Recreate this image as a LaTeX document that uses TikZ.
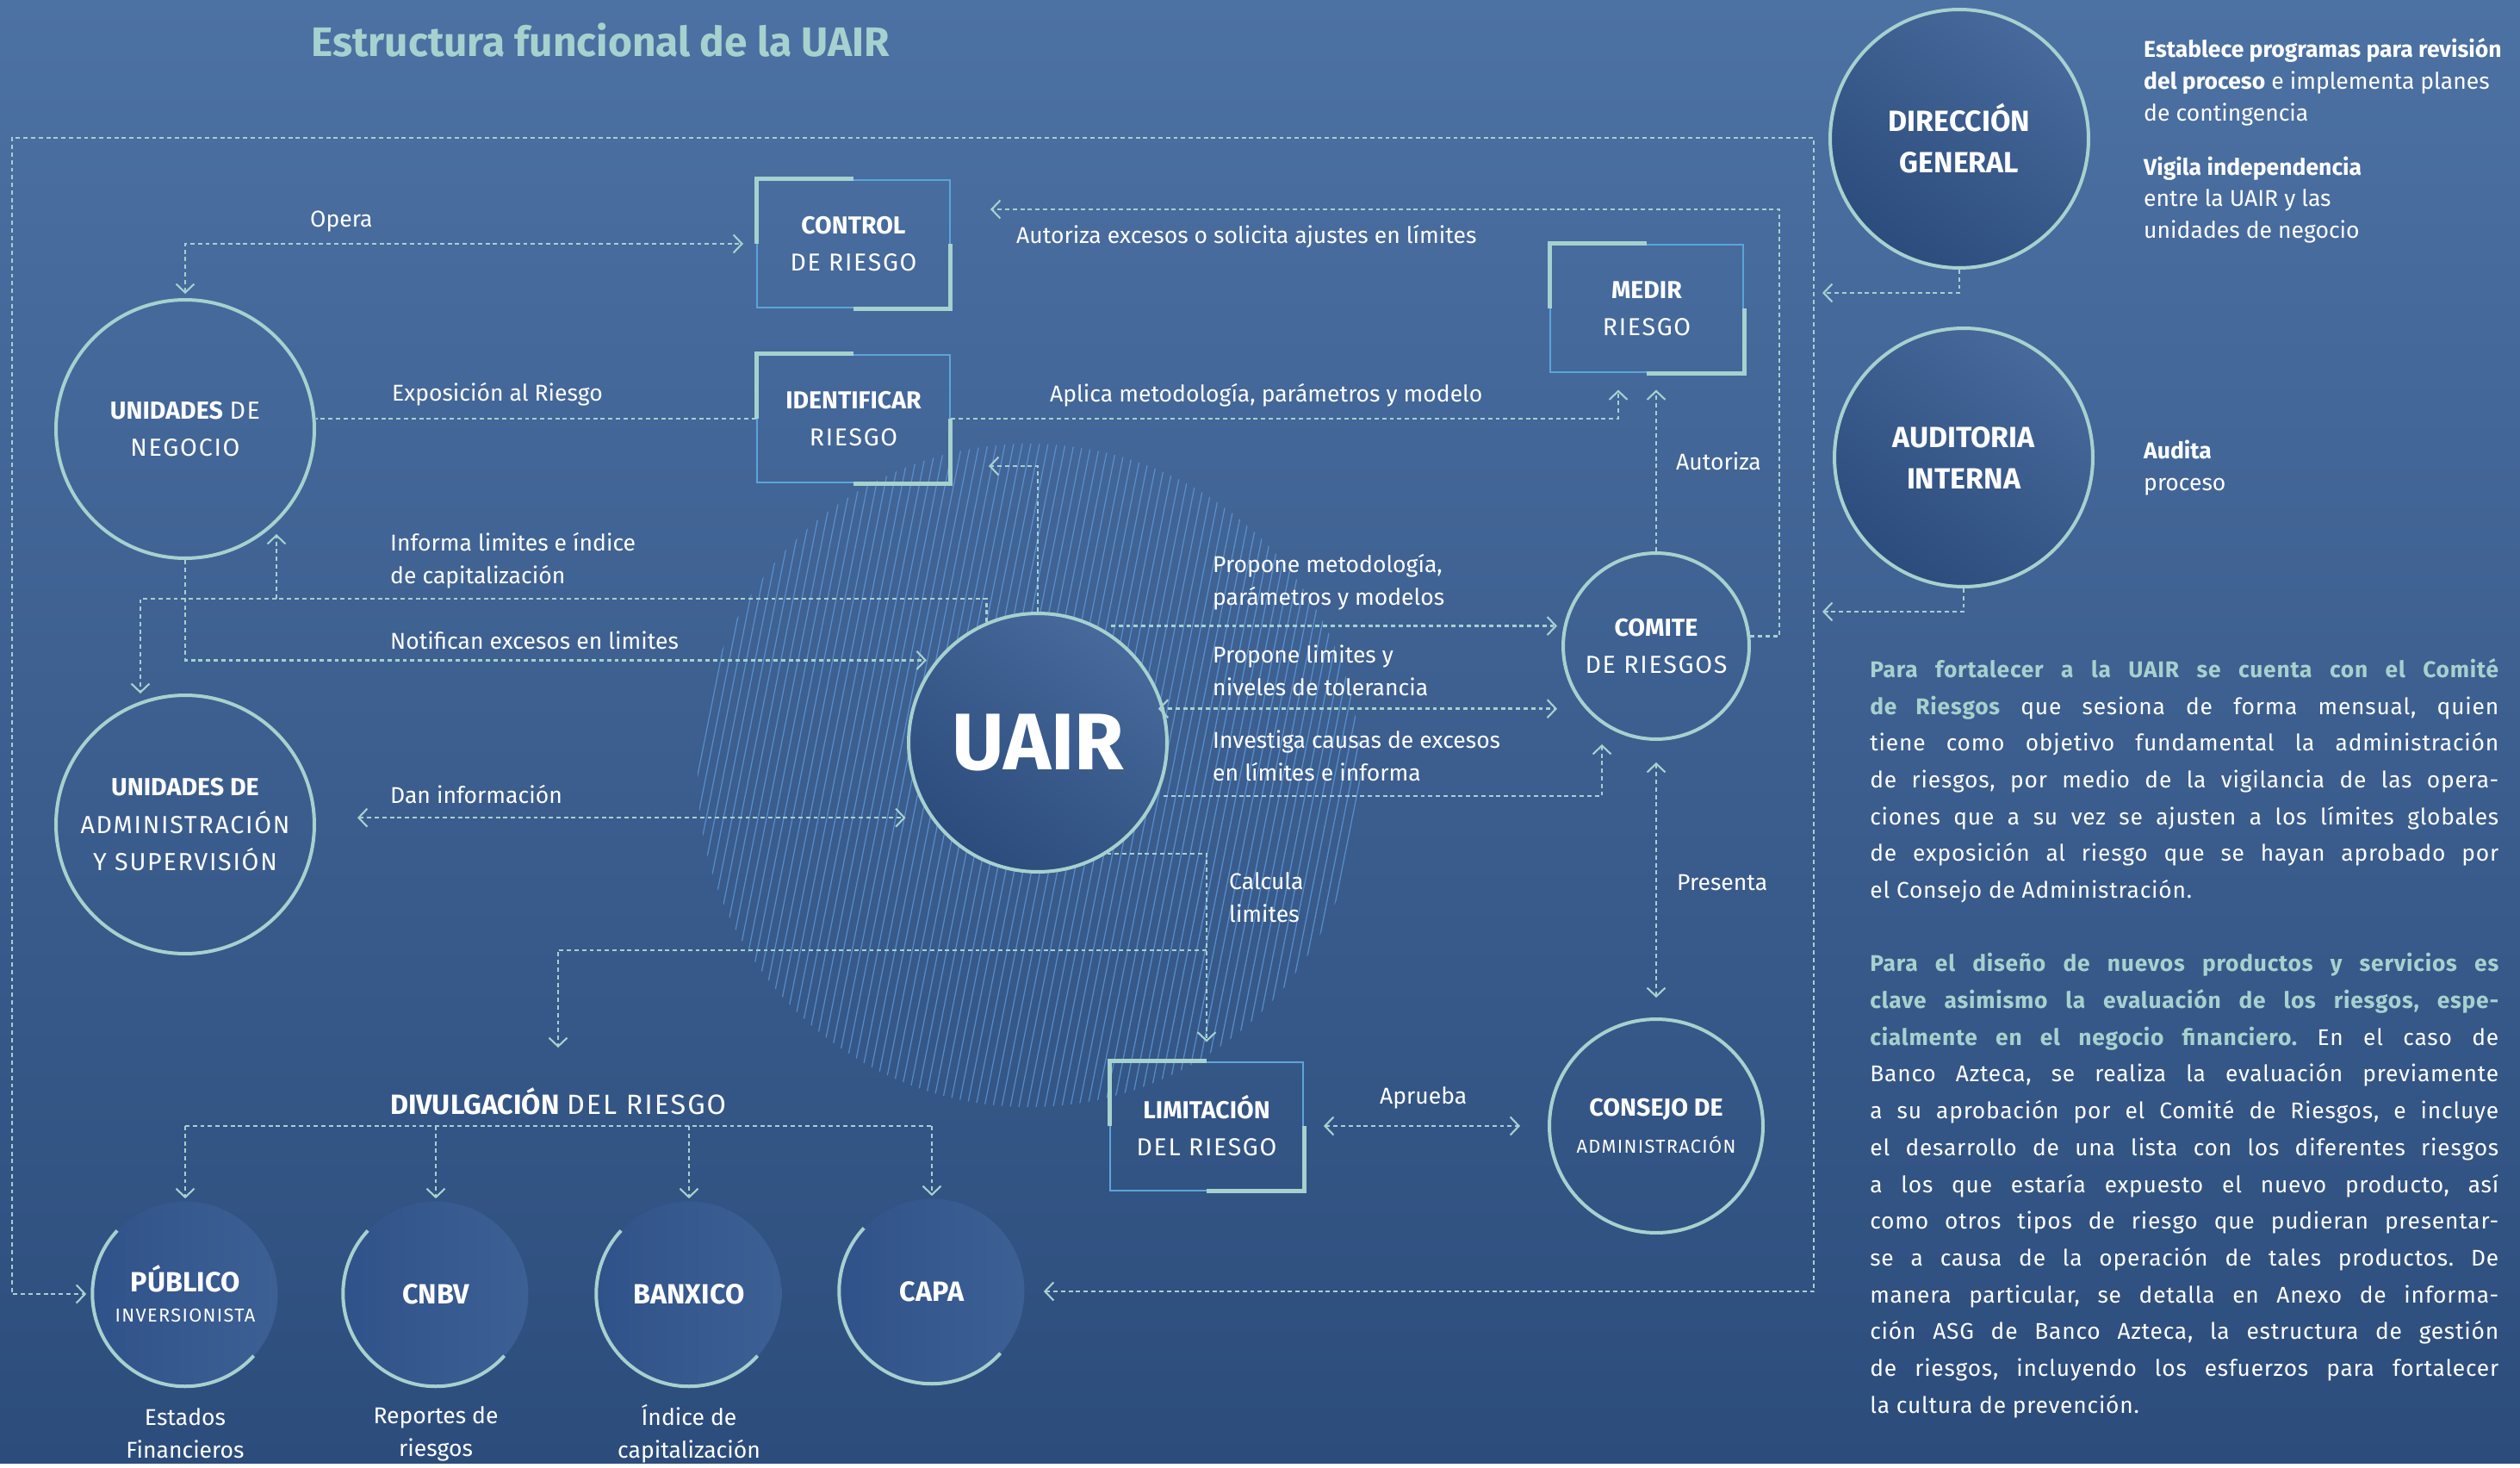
\documentclass[tikz,border=0pt]{standalone}
\usepackage{fontspec}
\setmainfont{Fira Sans}
\newfontfamily\espaciada{Fira Sans}[LetterSpace=6]
\newfontfamily\parrafofont{Fira Sans}[LetterSpace=3]
\newcommand{\espa}[1]{{\espaciada #1}}
\usetikzlibrary{arrows.meta}
\definecolor{fondoA}{HTML}{4C71A3}
\definecolor{fondoB}{HTML}{2C4D7C}
\definecolor{verde}{HTML}{A6D1CE}
\definecolor{azulclaro}{HTML}{5AA5DA}
\definecolor{rayas}{HTML}{66A8EC}
\definecolor{bolaA}{HTML}{2B4C7C}
\definecolor{bolaB}{HTML}{47699B}
\definecolor{suaveA}{HTML}{30528A}
\definecolor{suaveB}{HTML}{3C6094}

\begin{document}
\begin{tikzpicture}[x=0.02cm, y=-0.02cm,
    linea/.style={verde, line width=1.4pt, dash pattern=on 2.8pt off 2.2pt},
    >={Straight Barb[length=0.2cm, width=0.42cm, line width=1.2pt]},
    circulo/.style={circle, draw=verde, line width=0.08cm, minimum size=6cm, text=white, align=center, font=\fontsize{16.3}{24.5}\selectfont},
    bola/.style={circulo, bottom color=bolaA, top color=bolaB, shading angle=-35, font=\bfseries\fontsize{19.3}{27.3}\selectfont},
    circulito/.style={circle, minimum size=4.3cm, text=white, align=center, left color=suaveA, right color=suaveB, font=\bfseries\fontsize{18.4}{22}\selectfont},
    caja/.style={rectangle, draw=azulclaro, line width=0.04cm, minimum width=4.48cm, minimum height=2.98cm, text=white, align=center, font=\fontsize{16.2}{24.5}\selectfont},
    esquina/.style={verde, line width=0.1cm, line join=miter},
    etiqueta/.style={anchor=west, text=white, align=left, font=\fontsize{15.1}{21.6}\selectfont},
]

% fondo
\fill[top color=fondoA, bottom color=fondoB] (0,0) rectangle (2926,1698);

% rayado alrededor de UAIR
\begin{scope}
\clip (1195,900) circle (7.7cm);
\foreach \i in {0,...,95}
  \draw[rayas, line width=0.7pt, opacity=0.65] (640+\i*10,1300) -- ++(160,-800);
\end{scope}

\node [bola, font=\bfseries\fontsize{53}{54}\selectfont] (uair) at (1205,862) {UAIR};
\node [circulo] (un) at (215,498) {\textbf{UNIDADES} \espa{DE}\\\espa{NEGOCIO}};
\node [circulo] (uas) at (215,957) {\textbf{UNIDADES DE}\\\espa{ADMINISTRACIÓN}\\\espa{Y SUPERVISIÓN}};
\node [circulo, minimum size=4.32cm] (comite) at (1923,750) {\textbf{COMITE}\\\espa{DE RIESGOS}};
\node [circulo, minimum size=4.96cm] (consejo) at (1923,1307) {\textbf{CONSEJO DE}\\{\fontsize{12.4}{18}\selectfont\espa{ADMINISTRACIÓN}}};
\node [bola] (dg) at (2275,161) {DIRECCIÓN\\GENERAL};
\node [bola] (ai) at (2280,531) {AUDITORIA\\INTERNA};

\node [caja] (ctrl) at (991,283) {\textbf{CONTROL}\\\espa{DE RIESGO}};
\node [caja] (ident) at (991,486) {\textbf{IDENTIFICAR}\\\espa{RIESGO}};
\node [caja] (medir) at (1912,358) {\textbf{MEDIR}\\\espa{RIESGO}};
\node [caja] (limit) at (1401,1307) {\textbf{LIMITACIÓN}\\\espa{DEL RIESGO}};
\foreach \c in {ctrl,ident,medir,limit}{
  \draw[esquina] (\c.north) -- (\c.north west) -- (\c.west);
  \draw[esquina] (\c.south) -- (\c.south east) -- (\c.east);
}

\node [circulito] (pub) at (215,1502) {PÚBLICO\\[-2pt]{\mdseries\fontsize{12.4}{16}\selectfont\espa{INVERSIONISTA}}};
\node [circulito] (cnbv) at (506,1502) {CNBV};
\node [circulito] (banx) at (800,1502) {BANXICO};
\node [circulito] (capa) at (1082,1499) {CAPA};
\foreach \c in {pub,cnbv,banx,capa}
  \draw[verde, line width=0.08cm] (\c.137) arc[start angle=137, end angle=318, radius=2.15cm];

\node [font=\fontsize{18.4}{22}\selectfont, text=white] (divul) at (648,1278) {\textbf{DIVULGACIÓN} \espa{DEL RIESGO}};

% conexiones
\coordinate (m1) at (14,160);
\coordinate (m2) at (2106,160);
\coordinate (inf) at (163,695);
\coordinate (inf2) at (321,695);
\coordinate (aut) at (2066,243);
\coordinate (rama) at (1401,1103);
\coordinate (dist) at (215,1307);
\coordinate (dgin) at (2116,340);
\coordinate (aiin) at (2116,710);

\draw[linea,<->, shorten <=0.44cm, shorten >=0.14cm] (capa.east) -| (m2) -- (m1) |- (pub.west);
\draw[linea,<->, shorten <=0.1cm, shorten >=0.3cm] (un.north) |- (ctrl.west);
\draw[linea] (ident.west) -- (un.east |- ident.west);
\draw[linea,->, shorten >=0.38cm] (ident.east) -| ([xshift=-0.66cm]medir.south);
\draw[linea,->, shorten >=0.92cm] (comite.6) -| (aut) -- (ctrl.east |- aut);
\draw[linea,->, shorten >=0.38cm] (comite.north) -- (comite.north |- medir.south);
\draw[linea,->, shorten >=0.88cm] (uair.north) |- ([yshift=-1.1cm]ident.east);
\draw[linea,->, shorten <=0.32cm, shorten >=0.1cm] (uair.63) -- (uair.63 -| comite.west);
\draw[linea,<->, shorten <=-0.14cm, shorten >=0.1cm] (uair.15) -- (uair.15 -| comite.west);
\draw[linea,->, shorten <=0.14cm, shorten >=0.08cm] (uair.-24) -| ([xshift=-1.26cm]comite.south);
\draw[linea,<->, shorten <=0.5cm, shorten >=0.46cm] (comite.south) -- (consejo.north);
\draw[linea,<->, shorten <=0.46cm, shorten >=0.64cm] (limit.east) -- (consejo.west);
\draw[linea,->, shorten >=0.44cm] (uair.-58) -| (limit.north);
\draw[linea,->, shorten >=0.8cm] (rama) -| (divul.north);
\draw[linea] (dist) -- (capa.north |- dist);
\foreach \c in {pub,cnbv,banx,capa}
  \draw[linea,->, shorten >=0.06cm] (\c.north |- dist) -- (\c.north);
\draw[linea,->] (uair.113) |- (inf) -- (inf |- uas.north);
\draw[linea,->, shorten >=-0.6cm] (inf2) -- (inf2 |- un.south);
\draw[linea,->, shorten >=0.22cm] (un.south) |- (uair.141);
\draw[linea,<->, shorten <=0.96cm, shorten >=0.58cm] (uair.215 -| uas.east) -- (uair.215);
\draw[linea,->] (dg.south) |- (dgin);
\draw[linea,->] (ai.south) |- (aiin);

% textos de las conexiones
\node [etiqueta] (lopera) at (354,257) {Opera};
\node [etiqueta] (lexpo) at (449,458) {Exposición al Riesgo};
\node [etiqueta] (linforma) at (447,651) {Informa limites e índice\\de capitalización};
\node [etiqueta] (lnotif) at (447,743) {Notifican excesos en limites};
\node [etiqueta] (ldan) at (447,922) {Dan información};
\node [etiqueta] (lautex) at (1174,275) {Autoriza excesos o solicita ajustes en límites};
\node [etiqueta] (laplica) at (1213,459) {Aplica metodología, parámetros y modelo};
\node [etiqueta] (lautoriza) at (1940,535) {Autoriza};
\node [etiqueta] (lprop1) at (1402,676) {Propone metodología,\\parámetros y modelos};
\node [etiqueta] (lprop2) at (1402,778) {Propone limites y\\niveles de tolerancia};
\node [etiqueta] (linvest) at (1402,877) {Investiga causas de excesos\\en límites e informa};
\node [etiqueta] (lcalcula) at (1421,1042) {Calcula\\limites};
\node [etiqueta] (lpresenta) at (1941,1025) {Presenta};
\node [etiqueta] (laprueba) at (1596,1274) {Aprueba};
\node [etiqueta, anchor=center, align=center] (lpub) at (215,1664) {Estados\\Financieros};
\node [etiqueta, anchor=center, align=center] (lcnbv) at (506,1664) {Reportes de\\riesgos};
\node [etiqueta, anchor=center, align=center] (lbanx) at (800,1664) {Índice de\\capitalización};

% titulo y textos de la derecha
\node [anchor=west, text=verde, font=\bfseries\fontsize{27.2}{30}\selectfont] (titulo) at (355,47) {Estructura funcional de la UAIR};
\node [anchor=west, text=white, align=left, font=\fontsize{15.1}{21}\selectfont] (tdg) at (2483,95) {\textbf{Establece programas para revisión}\\\textbf{del proceso} e implementa planes\\de contingencia};
\node [anchor=west, text=white, align=left, font=\fontsize{15.1}{21}\selectfont] (tvig) at (2483,232) {\textbf{Vigila independencia}\\entre la UAIR y las\\unidades de negocio};
\node [anchor=west, text=white, align=left, font=\fontsize{15.1}{21}\selectfont] (tai) at (2483,543) {\textbf{Audita}\\proceso};

\node [anchor=north west, inner sep=0pt, text width=14.6cm, align=justify, text=white, font=\parrafofont\fontsize{15}{24.3}\selectfont\frenchspacing] (parrafo) at (2171,764) {%
{\color{verde}\bfseries Para fortalecer a la UAIR se cuenta con el Comité\linebreak de Riesgos} que sesiona de forma mensual, quien\linebreak
tiene como objetivo fundamental la administración\linebreak
de riesgos, por medio de la vigilancia de las opera-\linebreak
ciones que a su vez se ajusten a los límites globales\linebreak
de exposición al riesgo que se hayan aprobado por\linebreak
el Consejo de Administración.\par\vspace{\baselineskip}
{\color{verde}\bfseries Para el diseño de nuevos productos y servicios es\linebreak
clave asimismo la evaluación de los riesgos, espe-\linebreak
cialmente en el negocio financiero.} En el caso de\linebreak
Banco Azteca, se realiza la evaluación previamente\linebreak
a su aprobación por el Comité de Riesgos, e incluye\linebreak
el desarrollo de una lista con los diferentes riesgos\linebreak
a los que estaría expuesto el nuevo producto, así\linebreak
como otros tipos de riesgo que pudieran presentar-\linebreak
se a causa de la operación de tales productos. De\linebreak
manera particular, se detalla en Anexo de informa-\linebreak
ción ASG de Banco Azteca, la estructura de gestión\linebreak
de riesgos, incluyendo los esfuerzos para fortalecer\linebreak
la cultura de prevención.};

\end{tikzpicture}
\end{document}
